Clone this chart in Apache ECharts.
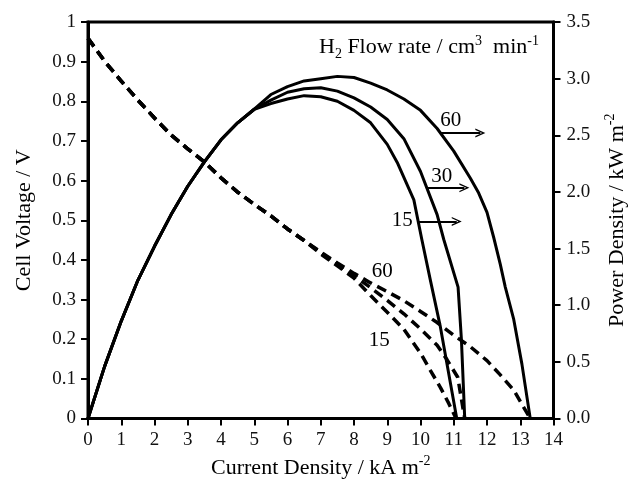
<!DOCTYPE html>
<html>
<head>
<meta charset="utf-8">
<script src="https://cdn.jsdelivr.net/npm/echarts@6/dist/echarts.min.js"></script>
<style>
  html, body { margin: 0; padding: 0; background: #fff; }
  #chart { width: 636px; height: 484px; }
</style>
</head>
<body>
<div id="chart"></div>
<script>
// Polarisation (cell voltage, V) vs current density (kA m^-2).
// The three flow rates share the low-current branch, then separate.
const voltageShared = [[0, 0.959], [0.5, 0.901], [1, 0.851], [1.5, 0.803], [2, 0.758], [2.5, 0.715],
  [3, 0.68], [3.5, 0.647], [4, 0.607], [4.5, 0.571], [5, 0.54], [5.5, 0.511], [6, 0.478], [6.5, 0.449]];
const voltage60 = [[7, 0.42], [7.5, 0.392], [8, 0.366], [8.5, 0.342], [9, 0.32], [9.5, 0.297], [10, 0.27],
  [10.5, 0.242], [11, 0.21], [11.5, 0.181], [12, 0.146], [12.4, 0.11], [12.8, 0.072], [13.3, 0]];
const voltage30 = [[7, 0.418], [7.5, 0.389], [8, 0.36], [8.5, 0.33], [9, 0.298], [9.5, 0.264], [10, 0.226],
  [10.5, 0.185], [10.8, 0.148], [11.12, 0.104], [11.33, 0]];
const voltage15 = [[7, 0.415], [7.5, 0.385], [8, 0.354], [8.5, 0.31], [9, 0.268], [9.5, 0.225], [10, 0.165],
  [10.3, 0.121], [10.6, 0.078], [10.85, 0.038], [11.07, 0]];

// Power density (kW m^-2) vs current density (kA m^-2).
const powerShared = [[0, 0], [0.5, 0.46], [1, 0.86], [1.5, 1.22], [2, 1.52], [2.5, 1.8], [3, 2.05],
  [3.5, 2.265], [4, 2.46], [4.5, 2.61], [5, 2.73]];
const power60 = [[5.5, 2.86], [6, 2.93], [6.5, 2.98], [7, 3.0], [7.5, 3.02], [8, 3.01], [8.5, 2.96], [9, 2.9],
  [9.5, 2.82], [10, 2.72], [10.5, 2.56], [11, 2.36], [11.5, 2.12], [11.75, 1.99], [12, 1.82], [12.2, 1.6],
  [12.4, 1.36], [12.55, 1.16], [12.8, 0.88], [13.05, 0.48], [13.3, 0]];
const power30 = [[5.5, 2.81], [6, 2.88], [6.5, 2.91], [7, 2.92], [7.5, 2.89], [8, 2.83], [8.5, 2.75], [9, 2.64],
  [9.5, 2.47], [10, 2.18], [10.5, 1.8], [10.7, 1.58], [11.13, 1.16], [11.23, 0.7], [11.33, 0]];
const power15 = [[5.5, 2.78], [6, 2.82], [6.5, 2.85], [7, 2.84], [7.5, 2.8], [8, 2.72], [8.5, 2.61], [9, 2.42],
  [9.3, 2.26], [9.8, 1.93], [10.04, 1.58], [10.29, 1.23], [10.59, 0.82], [10.84, 0.41], [11.09, 0]];

// Flow-rate annotations: arrows on the power curves (current from, current to, power level)
const arrowFlow = ['60', '30', '15'];
const arrowFrom = [10.59, 10.19, 9.95];
const arrowTo = [11.8, 11.32, 11.09];
const arrowLevel = [2.52, 2.036, 1.74];
const arrowLabelAt = [[10.91, 2.63], [10.64, 2.14], [9.45, 1.75]];
// Flow-rate labels beside the polarisation curves
const voltageLabelFlow = ['60', '15'];
const voltageLabelAt = [[8.85, 0.372], [8.76, 0.196]];

// Axis ranges and steps
const currentMax = 14, currentStep = 1;
const voltageMax = 1, voltageStep = 0.1;
const powerMax = 3.5, powerStep = 0.5;

const FONT = '"Liberation Serif", "Times New Roman", serif';
const INK = '#000';

const richText = {
  b: { fontFamily: FONT, fontSize: 22, fontWeight: 'normal', color: INK, lineHeight: 27 },
  sup: { fontFamily: FONT, fontSize: 14, fontWeight: 'normal', color: INK, lineHeight: 14, verticalAlign: 'top' },
  sub: { fontFamily: FONT, fontSize: 14, fontWeight: 'normal', color: INK, lineHeight: 14, verticalAlign: 'bottom' }
};

const chevron = 'path://M0,10 L5,0 L10,10 L8.4,10 L5,3.2 L1.6,10 Z';

function dashedSeries(tail) {
  return {
    type: 'line', yAxisIndex: 0, data: voltageShared.concat(tail),
    symbol: 'none', silent: true, z: 3,
    lineStyle: { color: INK, width: 3.5, type: [10, 6], cap: 'butt' }
  };
}
function solidSeries(tail) {
  return {
    type: 'line', yAxisIndex: 1, data: powerShared.concat(tail),
    symbol: 'none', silent: true, z: 3,
    lineStyle: { color: INK, width: 3, join: 'round' }
  };
}
function textMarks(axisIndex, names, points) {
  return {
    type: 'scatter', yAxisIndex: axisIndex, silent: true,
    symbol: 'circle', symbolSize: 0.1,
    itemStyle: { color: INK, opacity: 1 },
    label: {
      show: true, position: 'inside', formatter: '{b}', opacity: 1,
      fontFamily: FONT, fontSize: 21, fontWeight: 'normal', color: INK,
      textBorderWidth: 0
    },
    data: names.map((f, i) => ({ name: f, value: points[i] }))
  };
}

const arrowLines = arrowFlow.map((f, i) => [
  { coord: [arrowFrom[i], arrowLevel[i]] },
  { coord: [arrowTo[i], arrowLevel[i]] }
]);

const axisLine = { show: true, onZero: false, lineStyle: { color: INK, width: 3 } };
const axisTick = { show: true, inside: false, length: 7, lineStyle: { color: INK, width: 2 } };
const tickLabel = { fontFamily: FONT, fontSize: 19, color: '#111' };

const chart = echarts.init(document.getElementById('chart'), null, { renderer: 'canvas' });
chart.setOption({
  animation: false,
  backgroundColor: '#fff',
  title: {
    text: '{b|H}{sub|2}{b| Flow rate / cm}{sup|3}{b|  min}{sup|-1}',
    left: 314, top: 29,
    textStyle: { fontWeight: 'normal', rich: richText }
  },
  grid: { left: 88, right: 78, top: 22, bottom: 65, show: true, borderColor: INK, borderWidth: 3 },
  xAxis: {
    type: 'value', min: 0, max: currentMax, interval: currentStep,
    axisLine, axisTick,
    axisLabel: Object.assign({ margin: 12 }, tickLabel),
    splitLine: { show: false },
    name: '{b|Current Density / kA m}{sup|-2}',
    nameLocation: 'middle', nameGap: 36,
    nameTextStyle: { rich: richText }
  },
  yAxis: [
    {
      type: 'value', min: 0, max: voltageMax, interval: voltageStep, position: 'left',
      axisLine, axisTick,
      axisLabel: Object.assign({ margin: 12 }, tickLabel),
      splitLine: { show: false },
      name: '{b|Cell Voltage / V}',
      nameLocation: 'middle', nameGap: 50, nameRotate: 90,
      nameTextStyle: { rich: richText }
    },
    {
      type: 'value', min: 0, max: powerMax, interval: powerStep, position: 'right',
      axisLine, axisTick,
      axisLabel: Object.assign({ margin: 13, formatter: v => v.toFixed(1) }, tickLabel),
      splitLine: { show: false },
      name: '{b|Power Density / kW m}{sup|-2}',
      nameLocation: 'middle', nameGap: 50, nameRotate: 90,
      nameTextStyle: { rich: richText }
    }
  ],
  series: [
    dashedSeries(voltage60),
    dashedSeries(voltage30),
    dashedSeries(voltage15),
    solidSeries(power60),
    solidSeries(power30),
    solidSeries(power15),
    {
      type: 'line', yAxisIndex: 1, data: [], silent: true,
      markLine: {
        silent: true, animation: false,
        symbol: ['none', chevron], symbolSize: [9, 10],
        label: { show: false },
        lineStyle: { color: INK, width: 2, type: 'solid' },
        emphasis: { disabled: true },
        data: arrowLines
      }
    },
    textMarks(1, arrowFlow, arrowLabelAt),
    textMarks(0, voltageLabelFlow, voltageLabelAt)
  ]
});
</script>
</body>
</html>
